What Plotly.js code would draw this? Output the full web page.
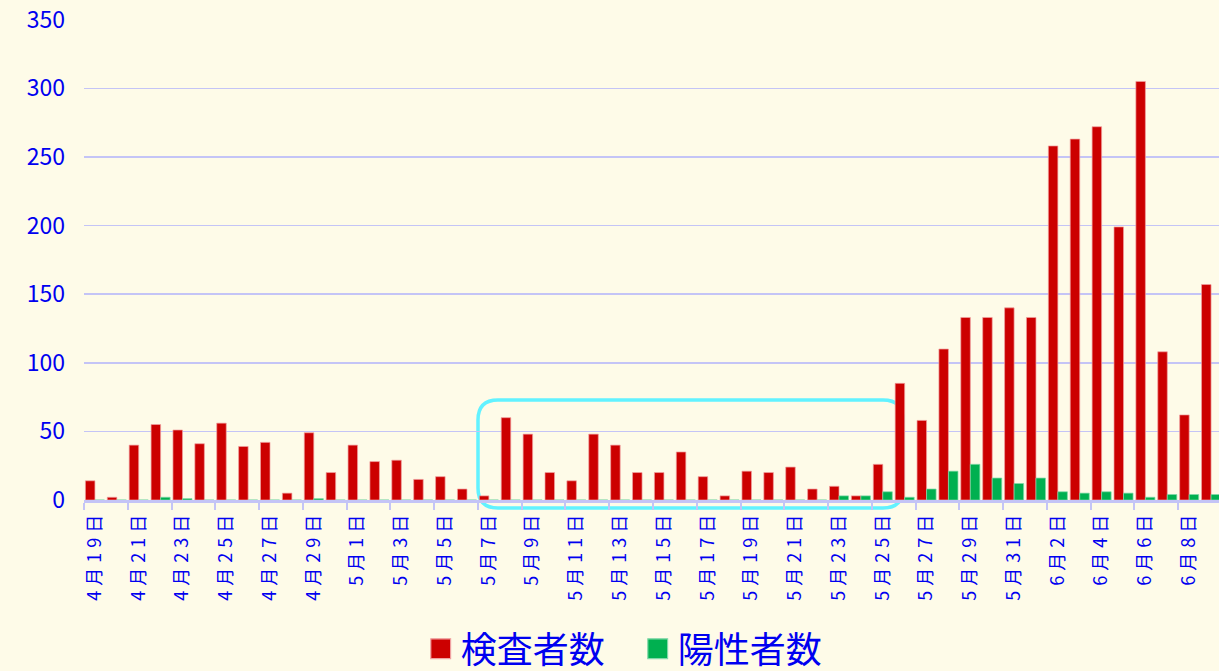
<!DOCTYPE html>
<html>
<head>
<meta charset="utf-8">
<script src="https://cdn.plot.ly/plotly-3.0.1.min.js"></script>
<style>
html,body{margin:0;padding:0;overflow:hidden;background:#FEFBE8;}
#chart{width:1224px;height:671px;}
.xtick text{letter-spacing:5px;}
</style>
</head>
<body>
<div id="chart"></div>
<script>
const dates = [
  "4月19日","4月20日","4月21日","4月22日","4月23日","4月24日","4月25日","4月26日","4月27日","4月28日","4月29日","4月30日",
  "5月1日","5月2日","5月3日","5月4日","5月5日","5月6日","5月7日","5月8日","5月9日","5月10日","5月11日","5月12日","5月13日",
  "5月14日","5月15日","5月16日","5月17日","5月18日","5月19日","5月20日","5月21日","5月22日","5月23日","5月24日","5月25日",
  "5月26日","5月27日","5月28日","5月29日","5月30日","5月31日",
  "6月1日","6月2日","6月3日","6月4日","6月5日","6月6日","6月7日","6月8日","6月9日"
];
const tested = [
  14,2,40,55,51,41,56,39,42,5,49,20,
  40,28,29,15,17,8,3,60,48,20,14,48,40,
  20,20,35,17,3,21,20,24,8,10,3,26,
  85,58,110,133,133,140,
  133,258,263,272,199,305,108,62,157
];
const positive = [
  0,0,0,2,1,0,0,0,0,0,1,0,
  0,0,0,0,0,0,0,0,0,0,0,0,0,
  0,0,0,0,0,0,0,0,0,3,3,6,
  2,8,21,26,16,12,
  16,6,5,6,5,2,4,4,4
];
const seriesNames = ["検査者数","陽性者数"];

const blue = "#0000F0";
const grid = "#C4C4F6";
const W = 1224, H = 671, L = 84, R = 2, T = 19, B = 171;
const pw = W - L - R, ph = H - T - B;
// highlight box (pixel bounds converted to paper coords)
const bx0 = (478 - L) / pw, bx1 = (903 - L) / pw;
const by1 = (500 - 400) / ph, by0 = (500 - 508) / ph;
const rx = 20 / pw, ry = 20 / ph;
const boxPath = `M ${bx0+rx},${by1} L ${bx1-rx},${by1} Q ${bx1},${by1} ${bx1},${by1-ry} L ${bx1},${by0+ry} Q ${bx1},${by0} ${bx1-rx},${by0} L ${bx0+rx},${by0} Q ${bx0},${by0} ${bx0},${by0+ry} L ${bx0},${by1-ry} Q ${bx0},${by1} ${bx0+rx},${by1} Z`;

const data = [
  {type:"bar", x:dates, y:tested, name:seriesNames[0],
   marker:{color:"#CC0000", line:{color:"#F0A0A0", width:0.7}}},
  {type:"bar", x:dates, y:positive, name:seriesNames[1],
   marker:{color:"#00B050", line:{color:"#80D8A8", width:0.7}}}
];
const layout = {
  width: W, height: H,
  margin:{l:L, r:R, t:T, b:B},
  paper_bgcolor:"#FEFBE8", plot_bgcolor:"#FEFBE8",
  barmode:"group", bargap:0.13, bargroupgap:0,
  font:{family:"'Noto Sans CJK JP', 'Noto Sans', sans-serif", color:blue},
  xaxis:{type:"category", tickangle:-90, dtick:2, tickson:"boundaries",
    ticks:"outside", ticklen:7, tickwidth:2, tickcolor:grid,
    showline:true, linecolor:grid, linewidth:2.5, showgrid:false,
    tickfont:{size:18, color:blue}, fixedrange:true},
  yaxis:{range:[0,350.5], dtick:50, showgrid:true, gridcolor:grid, gridwidth:1.5,
    zeroline:false, showline:false, ticks:"", ticklabelstandoff:18,
    tickfont:{size:23, color:blue}, fixedrange:true},
  showlegend:true,
  legend:{orientation:"h", xref:"container", yref:"container", x:0.521, y:0.033,
    xanchor:"center", yanchor:"middle", font:{size:36, color:blue},
    bgcolor:"rgba(0,0,0,0)", itemwidth:30, entrywidth:172},
  shapes:[{type:"path", xref:"paper", yref:"paper", path:boxPath,
    line:{color:"#62F2FF", width:3.5}, layer:"between"}]
};
Plotly.newPlot("chart", data, layout, {displayModeBar:false, staticPlot:true}).then(function(gd){
  // enlarge legend squares to match the reference
  gd.querySelectorAll(".legendpoints path").forEach(function(p){
    const t = p.getAttribute("transform") || "";
    p.setAttribute("transform", t + " scale(1.65)");
  });
});
</script>
</body>
</html>
